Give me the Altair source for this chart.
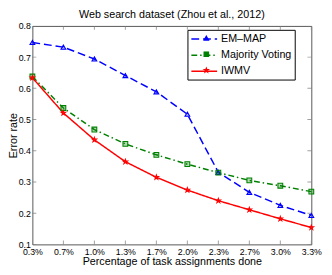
import altair as alt
import pandas as pd

cats = ["0.3%", "0.7%", "1.0%", "1.3%", "1.7%", "2.0%", "2.3%", "2.7%", "3.0%", "3.3%"]
em_map = [0.747, 0.732, 0.694, 0.641, 0.589, 0.517, 0.331, 0.267, 0.225, 0.193]
majority = [0.638, 0.537, 0.468, 0.422, 0.387, 0.357, 0.330, 0.305, 0.288, 0.269]
iwmv = [0.634, 0.521, 0.435, 0.365, 0.315, 0.274, 0.240, 0.211, 0.182, 0.154]
series = ["EM\u2013MAP", "Majority Voting", "IWMV"]
yticks = [0.1, 0.2, 0.3, 0.4, 0.5, 0.6, 0.7, 0.8]

series2 = [s + "\u200b" for s in series]
rows = []
for name, name2, vals in zip(series, series2, [em_map, majority, iwmv]):
    for c, v in zip(cats, vals):
        rows.append({"pct": c, "err": v, "method": name, "m2": name2})
df = pd.DataFrame(rows)

colors = ["#0000ff", "#008000", "#ff0000"]
dashes = [[8, 4], [6, 3, 1.5, 3], [1, 0]]
star = "M0,-1L0.24,-0.33L0.95,-0.31L0.38,0.12L0.59,0.81L0,0.4L-0.59,0.81L-0.38,0.12L-0.95,-0.31L-0.24,-0.33Z"
shapes = ["triangle-up", "square", star]

xscale = alt.Scale(type="point", padding=0, domain=cats)
yscale = alt.Scale(domain=[0.1, 0.8], nice=False, zero=False)
font = "Liberation Sans"

xaxis = alt.Axis(title="Percentage of task assignments done", labelAngle=0,
                 ticks=False, domain=False, labelPadding=3, titlePadding=0,
                 labelOverlap=False, grid=False)
yaxis = alt.Axis(title="Error rate", values=yticks, format=".1f", ticks=False,
                 domain=False, grid=False, labelPadding=2, titlePadding=0,
                 labelOverlap=False)

base = alt.Chart(df)
leg = alt.Legend(title=None, orient="none", legendX=159, legendY=4,
                 strokeColor="black", fillColor="white", padding=3,
                 symbolType="M-1,0L3.8,0", symbolSize=121, symbolStrokeWidth=1.5,
                 labelFontSize=11, labelFont=font, labelColor="black",
                 rowPadding=4.5, labelOffset=18.4)
leg2 = alt.Legend(title=None, orient="none", legendX=159, legendY=4,
                  padding=3, symbolSize=22, symbolStrokeWidth=1.1, symbolOffset=10.85,
                  labelFontSize=11, labelFont=font, labelColor="transparent",
                  labelExpr="''", rowPadding=4.5, labelOffset=3)
lines = base.mark_line(strokeWidth=1.5).encode(
    x=alt.X("pct:O", scale=xscale, sort=cats, axis=xaxis),
    y=alt.Y("err:Q", scale=yscale, axis=yaxis),
    color=alt.Color("method:N", scale=alt.Scale(domain=series, range=colors), sort=series,
                    legend=leg),
    strokeDash=alt.StrokeDash("method:N", scale=alt.Scale(domain=series, range=dashes),
                              sort=series, legend=leg),
)
points = base.mark_point(filled=False, strokeWidth=1.1, size=24, fillOpacity=0.3).encode(
    x=alt.X("pct:O", scale=xscale, sort=cats, axis=xaxis),
    y=alt.Y("err:Q", scale=yscale, axis=yaxis),
    color=alt.Color("m2:N", scale=alt.Scale(domain=series2, range=colors), sort=series2, legend=leg2),
    fill=alt.Fill("m2:N", scale=alt.Scale(domain=series2, range=colors), sort=series2, legend=leg2),
    shape=alt.Shape("m2:N", scale=alt.Scale(domain=series2, range=shapes), sort=series2, legend=leg2),
)

tick_df = pd.DataFrame({"pct": cats})
ytick_df = pd.DataFrame({"err": yticks})
tcol = "#777777"
tick = dict(size=8, color=tcol, thickness=1, clip=True)
xt_bottom = alt.Chart(tick_df).mark_tick(orient="vertical", **tick).encode(
    x=alt.X("pct:O", scale=xscale, sort=cats, axis=xaxis),
    y=alt.Y(datum=0.1, scale=yscale, axis=yaxis))
xt_top = alt.Chart(tick_df).mark_tick(orient="vertical", **tick).encode(
    x=alt.X("pct:O", scale=xscale, sort=cats, axis=xaxis),
    y=alt.Y(datum=0.8, scale=yscale, axis=yaxis))
yt_left = alt.Chart(ytick_df).mark_tick(orient="horizontal", **tick).encode(
    y=alt.Y("err:Q", scale=yscale, axis=yaxis),
    x=alt.X(datum="0.3%", scale=xscale, axis=xaxis))
yt_right = alt.Chart(ytick_df).mark_tick(orient="horizontal", **tick).encode(
    y=alt.Y("err:Q", scale=yscale, axis=yaxis),
    x=alt.X(datum="3.3%", scale=xscale, axis=xaxis))

chart = alt.layer(lines, points, xt_bottom, xt_top, yt_left, yt_right).properties(
    width=286, height=224,
    title=alt.Title("Web search dataset (Zhou et al., 2012)", fontSize=11, font=font,
                    fontWeight="normal", color="black", offset=2),
    autosize=alt.AutoSizeParams(type="none"),
    padding={"left": 25, "top": 15, "right": 13, "bottom": 28},
).configure_view(stroke="#555555", strokeWidth=1).configure_axis(
    labelFont=font, labelFontSize=9, labelColor="black",
    titleFont=font, titleFontSize=11, titleFontWeight="normal", titleColor="black",
).resolve_scale(color="independent", fill="independent", shape="independent",
                strokeDash="independent")

chart.save("out.html", embed_options={"renderer": "svg", "actions": False})
